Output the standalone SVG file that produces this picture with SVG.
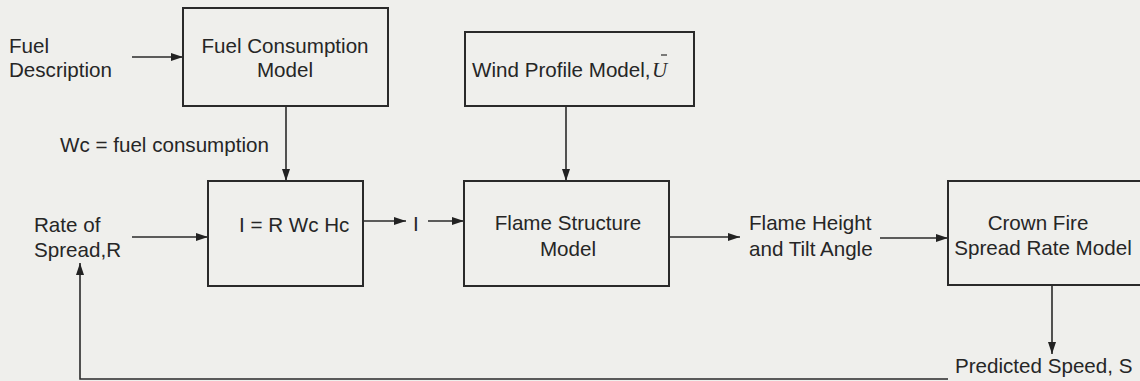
<svg xmlns="http://www.w3.org/2000/svg" width="1140" height="381" viewBox="0 0 1140 381">
<defs>
<marker id="ah" viewBox="0 0 12 10" refX="12" refY="5" markerWidth="12" markerHeight="10" markerUnits="userSpaceOnUse" orient="auto">
<path d="M0,1 L12,5 L0,9 Z" fill="#222"/>
</marker>
<style>
.box{fill:none;stroke:#2a2a2a;stroke-width:2}
.arr{fill:none;stroke:#2a2a2a;stroke-width:1.6;marker-end:url(#ah)}
text{font-family:"Liberation Sans",Arial,sans-serif;font-size:20.6px;fill:#262626}
.c{text-anchor:middle}
</style>
</defs>
<rect width="1140" height="381" fill="#efefec"/>
<g id="connectors">
<line class="arr" x1="132" y1="57" x2="183" y2="57"/>
<line class="arr" x1="286" y1="107" x2="286" y2="181"/>
<line class="arr" x1="566" y1="107" x2="566" y2="181"/>
<line class="arr" x1="132" y1="237" x2="208" y2="237"/>
<line class="arr" x1="363" y1="221" x2="406" y2="221"/>
<line class="arr" x1="428" y1="221" x2="464" y2="221"/>
<line class="arr" x1="669" y1="237" x2="740" y2="237"/>
<line class="arr" x1="880" y1="238" x2="948" y2="238"/>
<line class="arr" x1="1052" y1="285" x2="1052" y2="354"/>
<polyline class="arr" points="948,379 80,379 80,263"/>
</g>
<g id="fuel-description">
<text x="9" y="53">Fuel</text>
<text x="9" y="77">Description</text>
</g>
<g id="fuel-consumption-model">
<rect class="box" x="183" y="8" width="205" height="98"/>
<text class="c" x="285" y="53">Fuel Consumption</text>
<text class="c" x="285" y="77">Model</text>
</g>
<g id="wc-label">
<text x="60" y="152">Wc = fuel consumption</text>
</g>
<g id="wind-profile-model">
<rect class="box" x="465" y="32" width="229" height="74"/>
<text x="472" y="77">Wind Profile Model,</text>
<text x="652" y="77" style="font-family:'Liberation Serif','Times New Roman',serif;font-style:italic;font-size:21px">U</text>
<line x1="661" y1="55" x2="667" y2="55" stroke="#2a2a2a" stroke-width="1.2"/>
</g>
<g id="rate-of-spread">
<text x="34" y="232">Rate of</text>
<text x="34" y="257">Spread,R</text>
</g>
<g id="intensity">
<rect class="box" x="208" y="181" width="155" height="105"/>
<text x="239" y="232">I = R Wc Hc</text>
</g>
<g id="i-label">
<text x="413" y="231">I</text>
</g>
<g id="flame-structure-model">
<rect class="box" x="464" y="181" width="205" height="105"/>
<text class="c" x="568" y="230">Flame Structure</text>
<text class="c" x="568" y="256">Model</text>
</g>
<g id="flame-height">
<text x="749" y="230">Flame Height</text>
<text x="749" y="256">and Tilt Angle</text>
</g>
<g id="crown-fire-model">
<rect class="box" x="948" y="181" width="200" height="104"/>
<text class="c" x="1038" y="230">Crown Fire</text>
<text class="c" x="1043" y="255">Spread Rate Model</text>
</g>
<g id="predicted-speed">
<text x="955" y="373">Predicted Speed, S</text>
</g>
</svg>
